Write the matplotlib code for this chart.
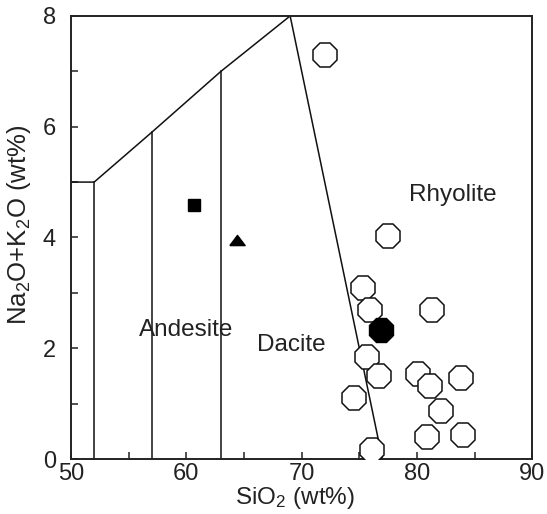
import matplotlib
matplotlib.use("Agg")
import matplotlib.pyplot as plt
import numpy as np

plt.rcParams['font.family'] = ['Liberation Sans', 'DejaVu Sans']
plt.rcParams['mathtext.fontset'] = 'custom'
plt.rcParams['mathtext.rm'] = 'Liberation Sans'
plt.rcParams['mathtext.it'] = 'Liberation Sans'

# TAS field boundaries (SiO2, Na2O+K2O)
upper_x = [50, 52, 57, 63, 69]
upper_y = [5, 5, 5.9, 7.0, 8]
verticals_x = [52, 57, 63]
verticals_top = [5, 5.9, 7.0]
dr_x = [69, 77]
dr_y = [8, 0]

# Samples
open_sio2 = [72.0, 77.5, 75.3, 75.9, 81.3, 75.7, 76.7, 80.1, 81.1, 83.8, 74.5, 82.1, 80.9, 84.0, 76.1]
open_alk = [7.29, 4.03, 3.08, 2.69, 2.69, 1.84, 1.49, 1.53, 1.31, 1.46, 1.11, 0.87, 0.40, 0.43, 0.17]
filled_sio2 = [76.9]
filled_alk = [2.33]
square_sio2 = [60.7]
square_alk = [4.58]
tri_sio2 = [64.4]
tri_alk = [3.96]

field_names = ["Andesite", "Dacite", "Rhyolite"]
field_x = [60.0, 69.1, 83.1]
field_y = [2.33, 2.06, 4.77]

fig = plt.figure(figsize=(5.47, 5.14), dpi=100)
ax = fig.add_axes([0.130, 0.107, 0.843, 0.862])

lc = '#111111'
ax.plot(upper_x, upper_y, color=lc, lw=1.1, zorder=2)
for xv, yt in zip(verticals_x, verticals_top):
    ax.plot([xv, xv], [0, yt], color=lc, lw=1.1, zorder=2)
ax.plot(dr_x, dr_y, color=lc, lw=1.1, zorder=2)

ax.plot(open_sio2, open_alk, linestyle='none', marker='8', markersize=19,
        markerfacecolor='white', markeredgecolor=lc, markeredgewidth=1.1, zorder=3)
ax.plot(filled_sio2, filled_alk, linestyle='none', marker='8', markersize=19,
        markerfacecolor='black', markeredgecolor='black', zorder=4)
ax.plot(square_sio2, square_alk, linestyle='none', marker='s', markersize=8.5,
        color='black', zorder=4)
tri_marker = [(-0.75, -0.5), (0.75, -0.5), (0, 0.5), (-0.75, -0.5)]
ax.plot(tri_sio2, tri_alk, linestyle='none', marker=tri_marker, markersize=11,
        color='black', zorder=4)

for name, tx, ty in zip(field_names, field_x, field_y):
    ax.text(tx, ty, name, fontsize=17.5, ha='center', va='center', color='#222222')

ax.set_xlim(50, 90)
ax.set_ylim(0, 8)
ax.set_xticks([50, 60, 70, 80, 90])
ax.set_xticks([55, 65, 75, 85], minor=True)
ax.set_yticks([0, 2, 4, 6, 8])
ax.set_yticks([1, 3, 5, 7], minor=True)
ax.tick_params(axis='both', which='both', direction='in', top=False, right=False,
               labelsize=17, colors='#222222')
ax.tick_params(axis='both', which='major', length=5, width=1.1)
ax.tick_params(axis='both', which='minor', length=5, width=1.1)
ax.tick_params(axis='x', which='major', pad=3)
ax.tick_params(axis='y', which='major', pad=11)
for s in ax.spines.values():
    s.set_linewidth(1.4)
    s.set_color('#222222')

ax.set_xlabel('SiO$_2$ (wt%)', fontsize=17.5, color='#222222')
ax.set_ylabel('Na$_2$O+K$_2$O (wt%)', fontsize=18.5, color='#222222')
ax.xaxis.set_label_coords(0.486, -0.059)
ax.yaxis.set_label_coords(-0.083, 0.528)

fig.savefig('out.png', dpi=100)
